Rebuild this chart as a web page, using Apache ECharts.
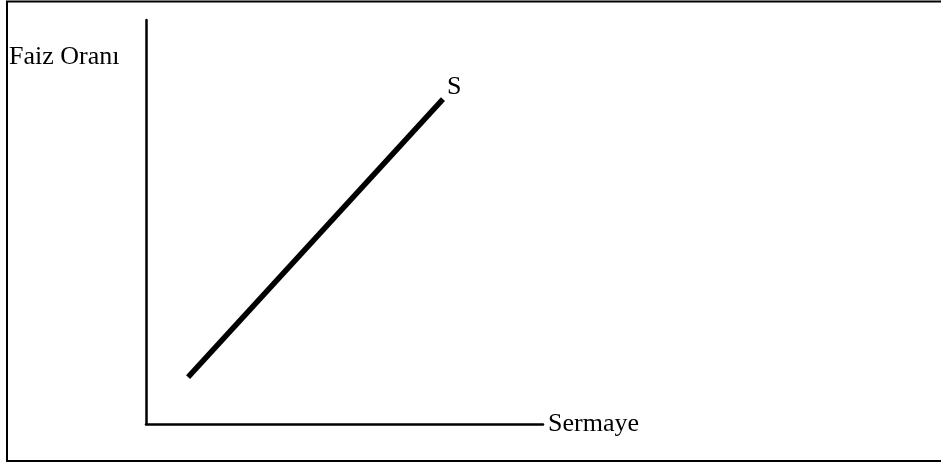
<!DOCTYPE html>
<html>
<head>
<meta charset="utf-8">
<script src="https://cdn.jsdelivr.net/npm/echarts@6/dist/echarts.min.js"></script>
<style>html,body{margin:0;padding:0;background:#fff;}#c{width:941px;height:466px;}</style>
</head>
<body>
<div id="c"></div>
<script>
const xLabel = "Sermaye";
const yLabel = "Faiz Oranı";
const curveName = "S";
const supplyX = [10.6, 74.8];
const supplyY = [11.6, 80.4];

const chart = echarts.init(document.getElementById('c'));
const font = '"Liberation Serif", "Times New Roman", serif';
chart.setOption({
  animation: false,
  backgroundColor: '#fff',
  grid: { left: 146, right: 398, top: 20, bottom: 42 },
  xAxis: {
    type: 'value', min: 0, max: 100,
    name: xLabel, nameLocation: 'end', nameGap: 5,
    nameTextStyle: { fontFamily: font, fontSize: 26, color: '#000', verticalAlign: 'middle' },
    axisLine: { show: true, onZero: false, lineStyle: { color: '#000', width: 2.5 } },
    axisTick: { show: false }, axisLabel: { show: false }, splitLine: { show: false }
  },
  yAxis: {
    type: 'value', min: 0, max: 100,
    axisLine: { show: true, onZero: false, lineStyle: { color: '#000', width: 2.5 } },
    axisTick: { show: false }, axisLabel: { show: false }, splitLine: { show: false }
  },
  graphic: [
    { type: 'rect', shape: { x: 7, y: 1.5, width: 1000, height: 459.5 },
      style: { fill: 'none', stroke: '#000', lineWidth: 2 }, silent: true },
    { type: 'text', left: 9, top: 44,
      style: { text: yLabel, font: '26px ' + font, fill: '#000' } }
  ],
  series: [{
    type: 'line', name: curveName,
    data: supplyX.map((x, i) => [x, supplyY[i]]),
    symbol: 'none',
    lineStyle: { color: '#000', width: 5.5, cap: 'butt' },
    endLabel: { show: true, formatter: curveName, fontFamily: font, fontSize: 26, color: '#000', offset: [-4, -12] }
  }]
});
</script>
</body>
</html>
